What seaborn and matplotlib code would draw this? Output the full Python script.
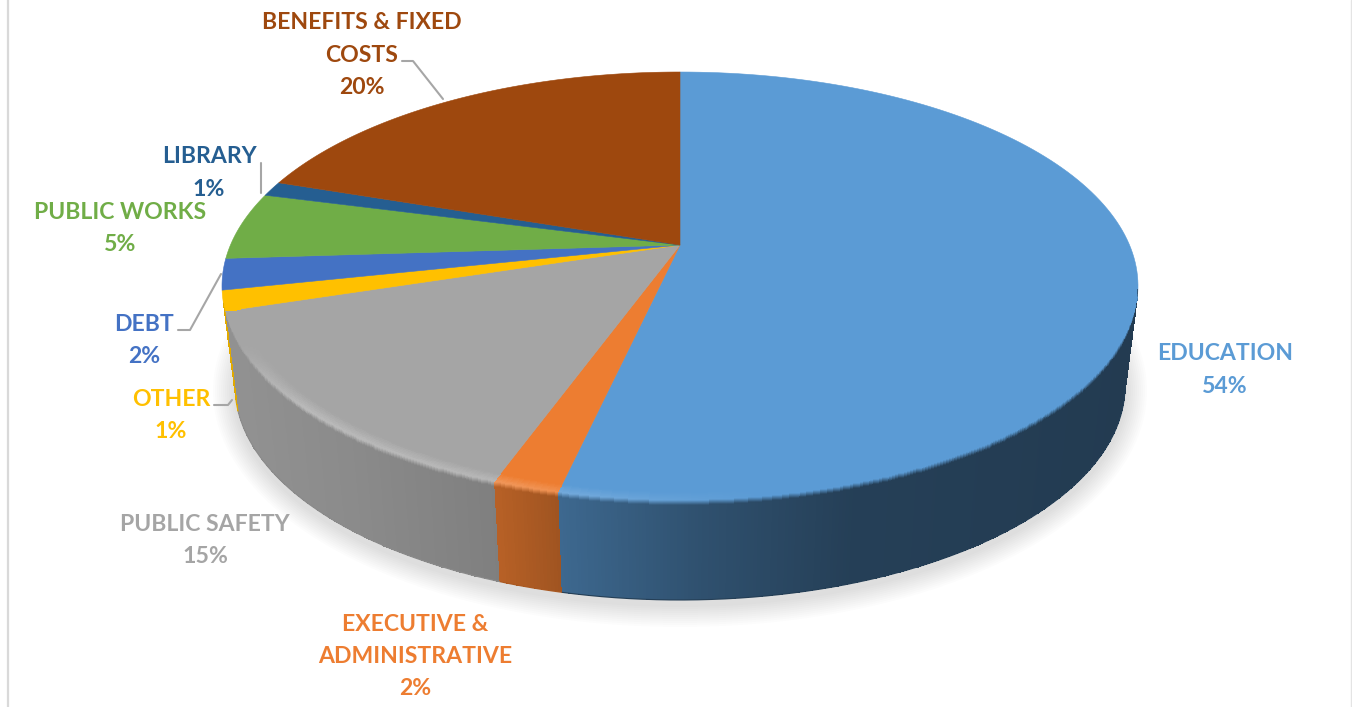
import numpy as np
import pandas as pd
import matplotlib
matplotlib.use("Agg")
import matplotlib.pyplot as plt
import seaborn as sns
from matplotlib.patches import Polygon

# Budget shares, clockwise from twelve o'clock
categories = ["EDUCATION", "EXECUTIVE &\nADMINISTRATIVE", "PUBLIC SAFETY", "OTHER",
              "DEBT", "PUBLIC WORKS", "LIBRARY", "BENEFITS & FIXED\nCOSTS"]
shares = [53.6, 2.0, 14.6, 1.49, 2.31, 5.0, 1.1, 19.9]
colors = ["#5B9BD5", "#ED7D31", "#A5A5A5", "#FFC000",
          "#4472C4", "#70AD47", "#255E91", "#9E480E"]

# Label block centres in figure pixels
label_x = [1225, 415, 205, 171, 144, 120, 209, 362]
label_y = [368.5, 655, 539, 414, 339, 227, 171.5, 53.5]

sns.set_theme(style="white")
plt.rcParams["font.family"] = ["Lato", "DejaVu Sans"]
palette = sns.color_palette(colors)
budget = pd.DataFrame({"category": categories, "share": shares})
budget["color"] = palette
budget["end"] = budget["share"].cumsum() / budget["share"].sum() * 2 * np.pi
budget["start"] = budget["end"] - budget["share"] / budget["share"].sum() * 2 * np.pi

W, H = 1352, 707
fig = plt.figure(figsize=(W / 100, H / 100), dpi=100)
ax = fig.add_axes([0, 0, 1, 1])
ax.set_xlim(0, W)
ax.set_ylim(H, 0)
ax.axis("off")

# Tilted disc: the rim ellipse sits lower than the hub because of perspective
CX, CY, RX, RY = 680.0, 286.0, 458.0, 214.0
BOTTOM_CY, BOTTOM_RX = 386.0, 445.0
HUB_Y = 245.0
DEPTH = 100.0
HUB_OFFSET = (CY - HUB_Y) / RY
WALL_START, WALL_END = np.pi / 2, 1.485 * np.pi
LINE_PITCH = 32.3
CAP_DROP = 8.0


def rim_param(theta):
    """Ellipse parameter of the rim point hit by a ray leaving the hub at angle theta."""
    sx, cy = np.sin(theta), np.cos(theta)
    proj = HUB_OFFSET * cy
    s = -proj + np.sqrt(proj ** 2 - HUB_OFFSET ** 2 + 1)
    return np.arctan2(s * sx, HUB_OFFSET + s * cy) % (2 * np.pi)


def slice_range(row):
    t0 = 0.0 if row.start == 0 else rim_param(row.start)
    t1 = rim_param(row.end) if row.end < 2 * np.pi - 1e-6 else 2 * np.pi
    return t0, t1


def top_pt(t, inset=0.0):
    return CX + (RX - 2 * inset) * np.sin(t), CY - (RY - inset) * np.cos(t)


def wall_pt(t, f):
    xt, yt = top_pt(t)
    xb, yb = CX + BOTTOM_RX * np.sin(t), BOTTOM_CY - RY * np.cos(t)
    return xt + (xb - xt) * f, yt + (yb - yt) * f


def wall_shade(x):
    return np.interp(x, [235, 350, 497, 560, 700, 850, 1140],
                     [0.88, 0.84, 0.77, 0.67, 0.52, 0.41, 0.38])


def rim_glow(x):
    return np.interp(x, [240, 262, 300, 500, 620, 760], [0.0, 0.14, 0.24, 0.20, 0.10, 0.0])


def strip_mesh(row, offsets, zorder):
    """Shaded mesh following the rim, from offsets[0] to offsets[-1] pixels across it."""
    t0, t1 = slice_range(row)
    t0, t1 = max(t0, WALL_START), min(t1, WALL_END)
    if t1 <= t0:
        return
    ts = np.linspace(t0, t1, max(3, int((t1 - t0) * 130)))
    X = np.zeros((len(offsets), len(ts)))
    Y = np.zeros_like(X)
    for i, v in enumerate(offsets):
        X[i], Y[i] = top_pt(ts, -v) if v < 0 else wall_pt(ts, v / DEPTH)
    base = np.array(row.color)
    tc = 0.5 * (ts[:-1] + ts[1:])
    xc = top_pt(tc)[0]
    vc = 0.5 * (offsets[:-1] + offsets[1:])
    rgb = np.zeros((len(vc), len(tc), 3))
    for j, x in enumerate(xc):
        wall = base * wall_shade(x)
        glow = base + (1 - base) * rim_glow(x)
        for c in range(3):
            rgb[:, j, c] = np.interp(vc, [-8, 0, 5], [base[c], glow[c], wall[c]])
    ax.pcolormesh(X, Y, rgb, shading="flat", antialiased=False, zorder=zorder)
    if offsets[-1] >= DEPTH:
        # Stroke the lower edge so the silhouette stays smooth
        xo, yo = wall_pt(ts, 1.0)
        ax.plot(xo, yo, color=base * wall_shade(xo.mean()), lw=0.8, zorder=zorder)


# Soft drop shadow under the disc
ring = np.linspace(0, 2 * np.pi, 240)
for grow in range(2, 24, 2):
    ax.add_patch(Polygon(np.c_[CX + (BOTTOM_RX + grow) * np.sin(ring),
                               BOTTOM_CY + 5 - (RY + grow) * np.cos(ring)],
                         closed=True, fc="black", ec="none", alpha=0.011, zorder=1))

# Curved walls, then the top faces, then a bevel band across the rim
for row in budget.itertuples():
    strip_mesh(row, np.linspace(0, DEPTH, 20), zorder=2)

for row in budget.itertuples():
    t0, t1 = slice_range(row)
    xs, ys = top_pt(np.linspace(t0, t1, 160))
    ax.add_patch(Polygon(np.r_[[[CX, HUB_Y]], np.c_[xs, ys]], closed=True,
                         fc=row.color, ec=row.color, lw=0.4, zorder=3))

for row in budget.itertuples():
    strip_mesh(row, np.arange(-8, 8, 1.0), zorder=4)

# Leader lines
leader = dict(color="#A6A6A6", lw=1.5, zorder=5, solid_capstyle="round")
ax.plot([402, 413, 443], [61, 61, 99], **leader)
ax.plot([261, 261], [163, 193], **leader)
ax.plot([178, 190, 221], [330, 330, 274], **leader)
ax.plot([214, 228, 232], [405, 405, 400], **leader)

# Category and percentage labels, one text per line on a fixed pitch
for row, x, y in zip(budget.itertuples(), label_x, label_y):
    lines = row.category.split("\n") + [f"{row.share:.0f}%"]
    for i, line in enumerate(lines):
        baseline = y + (i - (len(lines) - 1) / 2) * LINE_PITCH + CAP_DROP
        ax.text(x, baseline, line, color=row.color, ha="center", va="baseline",
                fontsize=16.6, fontweight="bold", zorder=6)

# Thin frame visible on both sides
ax.plot([7.5, 7.5], [0, H], color="#D9D9D9", lw=1.6, zorder=2)
ax.plot([1351, 1351], [0, H], color="#E4E4E4", lw=1.0, zorder=2)

fig.savefig("out.png", dpi=100, facecolor="white")
